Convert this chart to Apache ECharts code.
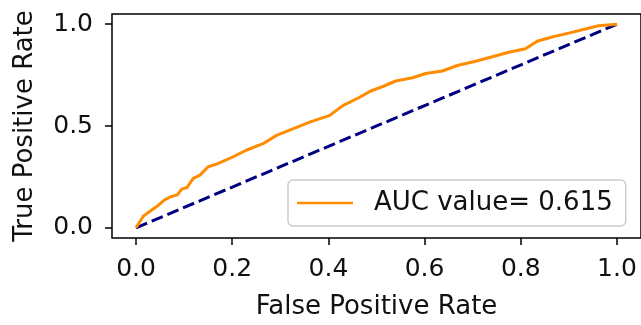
<!DOCTYPE html>
<html>
<head>
<meta charset="utf-8">
<script src="https://cdn.jsdelivr.net/npm/echarts@6/dist/echarts.min.js"></script>
<style>
  html, body { margin: 0; padding: 0; background: #fff; }
  #chart { width: 641px; height: 325px; }
</style>
</head>
<body>
<div id="chart"></div>
<script>
// ROC curve: false positive rate vs. true positive rate
const fpr = [0, 0.015, 0.029, 0.046, 0.060, 0.074, 0.086, 0.095, 0.106, 0.119, 0.133, 0.150,
  0.171, 0.202, 0.229, 0.264, 0.292, 0.326, 0.361, 0.381, 0.402, 0.430, 0.464, 0.488,
  0.513, 0.540, 0.575, 0.602, 0.637, 0.668, 0.706, 0.741, 0.775, 0.810, 0.834, 0.865,
  0.900, 0.934, 0.962, 1.0];
const tpr = [0, 0.057, 0.081, 0.110, 0.138, 0.154, 0.162, 0.190, 0.198, 0.243, 0.259, 0.300,
  0.316, 0.349, 0.381, 0.413, 0.454, 0.486, 0.519, 0.535, 0.551, 0.600, 0.640, 0.672,
  0.694, 0.721, 0.737, 0.758, 0.770, 0.797, 0.818, 0.840, 0.862, 0.879, 0.916, 0.937,
  0.956, 0.976, 0.992, 1.0];
// chance line
const chanceX = [0, 1];
const chanceY = [0, 1];
const aucLabel = 'AUC value= 0.615';
const tickValues = [0, 0.2, 0.4, 0.6, 0.8, 1.0];
const yTickValues = [0, 0.5, 1.0];

const FONT = '"DejaVu Sans", sans-serif';
const textColor = '#111';

const chart = echarts.init(document.getElementById('chart'), null, { renderer: 'canvas' });

chart.setOption({
  animation: false,
  backgroundColor: '#fff',
  grid: {
    left: 112, top: 14, width: 531, height: 226,
    show: true, borderColor: '#000', borderWidth: 1.5, backgroundColor: 'transparent'
  },
  xAxis: {
    type: 'value', min: -0.05, max: 1.05,
    name: 'False Positive Rate', nameLocation: 'middle', nameGap: 56,
    nameTextStyle: { fontFamily: FONT, fontSize: 26, color: textColor },
    axisLine: { show: false, onZero: false },
    splitLine: { show: false },
    axisTick: { show: true, length: 7, customValues: tickValues, lineStyle: { color: '#000', width: 1.5 } },
    axisLabel: {
      customValues: tickValues, margin: 19, fontFamily: FONT, fontSize: 25, color: textColor,
      formatter: v => v.toFixed(1)
    }
  },
  yAxis: {
    type: 'value', min: -0.05, max: 1.05,
    name: 'True Positive Rate', nameLocation: 'middle', nameGap: 74, nameRotate: 90,
    nameTextStyle: { fontFamily: FONT, fontSize: 26, color: textColor },
    axisLine: { show: false, onZero: false },
    splitLine: { show: false },
    axisTick: { show: true, length: 7, customValues: yTickValues, lineStyle: { color: '#000', width: 1.5 } },
    axisLabel: {
      customValues: yTickValues, margin: 19, fontFamily: FONT, fontSize: 25, color: textColor,
      formatter: v => v.toFixed(1)
    }
  },
  legend: {
    data: [aucLabel],
    left: 288, top: 180,
    orient: 'vertical',
    padding: [8, 13, 8, 9],
    icon: 'rect',
    itemWidth: 56, itemHeight: 2.5,
    backgroundColor: 'rgba(255,255,255,0.8)',
    borderColor: '#cccccc', borderWidth: 1.5, borderRadius: 5,
    textStyle: { fontFamily: FONT, fontSize: 26, color: textColor, padding: [0, 0, 0, 16], lineHeight: 30 }
  },
  series: [
    {
      name: 'chance',
      type: 'line',
      data: chanceX.map((x, i) => [x, chanceY[i]]),
      symbol: 'none',
      lineStyle: { color: '#000080', width: 3, type: [12, 5] },
      z: 2
    },
    {
      name: aucLabel,
      type: 'line',
      data: fpr.map((x, i) => [x, tpr[i]]),
      symbol: 'none',
      lineStyle: { color: '#FF8C00', width: 3 },
      itemStyle: { color: '#FF8C00' },
      z: 3
    }
  ]
});
</script>
</body>
</html>
